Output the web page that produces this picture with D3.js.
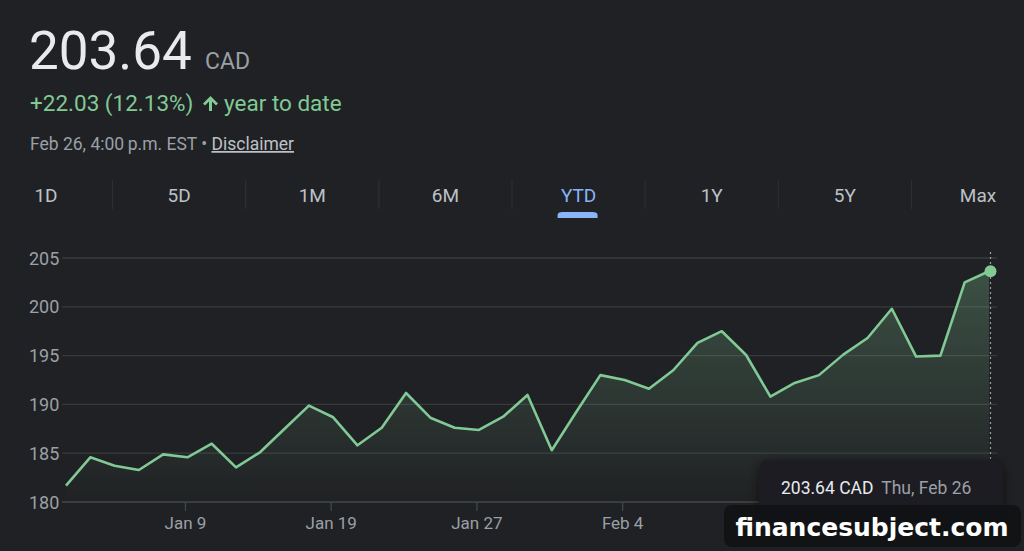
<!DOCTYPE html>
<html>
<head>
<meta charset="utf-8">
<script src="https://cdn.jsdelivr.net/npm/d3@7"></script>
<style>
  html, body { margin: 0; padding: 0; background: #202124; }
  svg { display: block; font-family: Roboto, "Noto Sans", sans-serif; }
</style>
</head>
<body>
<svg id="chart"></svg>
<script>
// trading days, year to date
const dates = ["2026-01-02","2026-01-05","2026-01-06","2026-01-07","2026-01-08","2026-01-09",
  "2026-01-12","2026-01-13","2026-01-14","2026-01-15","2026-01-16",
  "2026-01-19","2026-01-20","2026-01-21","2026-01-22","2026-01-23",
  "2026-01-26","2026-01-27","2026-01-28","2026-01-29","2026-01-30",
  "2026-02-02","2026-02-03","2026-02-04","2026-02-05","2026-02-06",
  "2026-02-09","2026-02-10","2026-02-11","2026-02-12","2026-02-13",
  "2026-02-17","2026-02-18","2026-02-19","2026-02-20",
  "2026-02-23","2026-02-24","2026-02-25","2026-02-26"];
const prices = [181.67,184.58,183.72,183.28,184.88,184.58,
  185.97,183.55,185.12,187.5,189.87,
  188.68,185.81,187.61,191.17,188.64,
  187.61,187.38,188.74,190.97,185.3,
  189.2,193.0,192.5,191.6,193.5,
  196.3,197.5,195.06,190.8,192.2,
  193.0,195.1,196.8,199.8,
  194.9,195.0,202.5,203.64];
const yTicks = [180, 185, 190, 195, 200, 205];
const xTickDates = ["2026-01-09","2026-01-19","2026-01-27","2026-02-04","2026-02-12","2026-02-23"];
const xTickLabels = ["Jan 9","Jan 19","Jan 27","Feb 4","Feb 12","Feb 23"];
const tabs = ["1D","5D","1M","6M","YTD","1Y","5Y","Max"];
const activeTab = "YTD";

const width = 1024, height = 551;
const green = "#81c995";
const svg = d3.select("#chart").attr("width", width).attr("height", height);

// ---- header
svg.append("text").attr("x", 29).attr("y", 69)
  .attr("fill", "#e8eaed").style("font-size", "53px").text("203.64");
svg.append("text").attr("x", 205).attr("y", 69)
  .attr("fill", "#9aa0a6").style("font-size", "23px").text("CAD");

svg.append("text").attr("x", 30).attr("y", 111)
  .attr("fill", green).style("font-size", "22.5px").text("+22.03 (12.13%)");
// up arrow icon
svg.append("path")
  .attr("d", "M210.5,96 L218,103.5 L216,105.5 L212,101.5 L212,111 L209,111 L209,101.5 L205,105.5 L203,103.5 Z")
  .attr("fill", green);
svg.append("text").attr("x", 224).attr("y", 111)
  .attr("fill", green).style("font-size", "22.5px").text("year to date");

const sub = svg.append("text").attr("x", 30).attr("y", 150)
  .attr("fill", "#9aa0a6").style("font-size", "17.5px");
sub.append("tspan").text("Feb 26, 4:00\u2009p.m. EST \u2022 ");
sub.append("tspan").attr("fill", "#bdc1c6").attr("text-decoration", "underline").text("Disclaimer");

// ---- tabs
const tabX = d3.scalePoint().domain(tabs).range([46, 978]);
const tabG = svg.append("g");
tabG.selectAll("text").data(tabs).enter().append("text")
  .attr("x", d => tabX(d)).attr("y", 202)
  .attr("text-anchor", "middle")
  .attr("fill", d => d === activeTab ? "#8ab4f8" : "#bdc1c6")
  .style("font-size", "19px").style("font-weight", 400)
  .text(d => d);
tabG.selectAll("line").data(tabs.slice(1)).enter().append("line")
  .attr("x1", (d, i) => (tabX(tabs[i]) + tabX(d)) / 2)
  .attr("x2", (d, i) => (tabX(tabs[i]) + tabX(d)) / 2)
  .attr("y1", 180).attr("y2", 209)
  .attr("stroke", "#2f3134").attr("stroke-width", 1);
const ax = tabX(activeTab) - 1;
tabG.append("path")
  .attr("d", `M${ax - 20},218 L${ax - 20},215 Q${ax - 20},212 ${ax - 15},212 L${ax + 15},212 Q${ax + 20},212 ${ax + 20},215 L${ax + 20},218 Z`)
  .attr("fill", "#8ab4f8");

// ---- chart
const parse = d3.timeParse("%Y-%m-%d");
const x = d3.scalePoint().domain(dates).range([66, 989]);
const y = d3.scaleLinear().domain([180, 205]).range([502, 258]);
const gridLeft = 62, gridRight = 997;

const data = dates.map((d, i) => ({ date: d, value: prices[i] }));

const defs = svg.append("defs");
const grad = defs.append("linearGradient").attr("id", "areaGrad")
  .attr("gradientUnits", "userSpaceOnUse")
  .attr("x1", 0).attr("x2", 0).attr("y1", y(205)).attr("y2", y(180));
grad.append("stop").attr("offset", 0).attr("stop-color", green).attr("stop-opacity", 0.3);
grad.append("stop").attr("offset", 1).attr("stop-color", green).attr("stop-opacity", 0.0);

// gridlines
svg.append("g").selectAll("line").data(yTicks).enter().append("line")
  .attr("x1", gridLeft).attr("x2", gridRight)
  .attr("y1", d => y(d)).attr("y2", d => y(d))
  .attr("stroke", d => d === 180 ? "#3f4844" : "#363b3a").attr("stroke-width", 1.3);

// y labels
svg.append("g").selectAll("text").data(yTicks).enter().append("text")
  .attr("x", 29).attr("y", d => y(d) + 6.5)
  .attr("fill", "#9aa0a6").style("font-size", "18px")
  .text(d => d);

// area + line
svg.append("path").datum(data)
  .attr("fill", "url(#areaGrad)")
  .attr("d", d3.area().x(d => x(d.date)).y0(y(180)).y1(d => y(d.value)));
svg.append("path").datum(data)
  .attr("fill", "none").attr("stroke", green).attr("stroke-width", 2.6)
  .attr("stroke-linejoin", "round")
  .attr("d", d3.line().x(d => x(d.date)).y(d => y(d.value)));

// x ticks
const xt = svg.append("g");
xt.selectAll("line").data(xTickDates).enter().append("line")
  .attr("x1", d => x(d) - 2).attr("x2", d => x(d) - 2)
  .attr("y1", y(180)).attr("y2", y(180) + 9)
  .attr("stroke", "#3f4844").attr("stroke-width", 1.3);
xt.selectAll("text").data(xTickDates).enter().append("text")
  .attr("x", d => x(d) - 2).attr("y", 529)
  .attr("text-anchor", "middle").attr("fill", "#9aa0a6").style("font-size", "17px")
  .text((d, i) => xTickLabels[i]);

// hover marker on last point
const last = data[data.length - 1];
svg.append("line")
  .attr("x1", x(last.date) + 1.5).attr("x2", x(last.date) + 1.5)
  .attr("y1", y(205) - 6).attr("y2", y(180) - 30)
  .attr("stroke", "#9aa0a6").attr("stroke-width", 1.2).attr("stroke-dasharray", "2,3");
svg.append("circle")
  .attr("cx", x(last.date) + 1.5).attr("cy", y(last.value))
  .attr("r", 6).attr("fill", green);

// tooltip
const tipF = defs.append("filter").attr("id", "shadow")
  .attr("x", "-20%").attr("y", "-40%").attr("width", "140%").attr("height", "180%");
tipF.append("feGaussianBlur").attr("in", "SourceAlpha").attr("stdDeviation", 6);
tipF.append("feOffset").attr("dy", 2).attr("result", "b");
tipF.append("feComponentTransfer").append("feFuncA").attr("type", "linear").attr("slope", 0.6);
const fm = tipF.append("feMerge");
fm.append("feMergeNode");
fm.append("feMergeNode").attr("in", "SourceGraphic");
svg.append("rect").attr("x", 759).attr("y", 460).attr("width", 244).attr("height", 62)
  .attr("rx", 10).attr("fill", "#1c1d20").attr("filter", "url(#shadow)");
const tip = svg.append("text").attr("x", 781).attr("y", 494).style("font-size", "17.5px");
tip.append("tspan").attr("fill", "#e8eaed").text(`${last.value.toFixed(2)} CAD`);
tip.append("tspan").attr("fill", "#9aa0a6").attr("dx", 8)
  .text(d3.timeFormat("%a, %b %-d")(parse(last.date)));

// watermark
svg.append("rect").attr("x", 724).attr("y", 505).attr("width", 297).attr("height", 42)
  .attr("rx", 8).attr("fill", "#111214").attr("fill-opacity", 0.9);
svg.append("text").attr("x", 872).attr("y", 536).attr("text-anchor", "middle")
  .attr("fill", "#ffffff").style("font-family", "'DejaVu Sans', sans-serif")
  .style("font-size", "25px").style("font-weight", 700)
  .text("financesubject.com");
</script>
</body>
</html>
